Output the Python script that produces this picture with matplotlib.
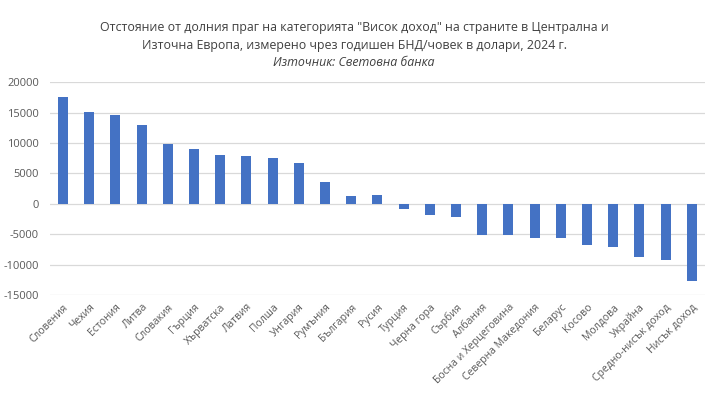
import matplotlib.pyplot as plt
import numpy as np
from matplotlib.transforms import ScaledTranslation

plt.rcParams['font.family'] = ['Open Sans', 'DejaVu Sans']

# Distance from the high-income threshold, GNI per capita, USD, 2024
countries = ['Словения', 'Чехия', 'Естония', 'Литва', 'Словакия', 'Гърция',
             'Хърватска', 'Латвия', 'Полша', 'Унгария', 'Румъния', 'България',
             'Русия', 'Турция', 'Черна гора', 'Сърбия', 'Албания',
             'Босна и Херцеговина', 'Северна Македония', 'Беларус', 'Косово',
             'Молдова', 'Украйна', 'Средно-нисък доход', 'Нисък доход']
gap = [17600, 15130, 14640, 12990, 9870, 9050,
       8060, 7900, 7570, 6740, 3620, 1320,
       1400, -780, -1880, -2200, -5200,
       -5200, -5540, -5700, -6700,
       -7050, -8670, -9290, -12750]
y_ticks = [-15000, -10000, -5000, 0, 5000, 10000, 15000, 20000]

fig = plt.figure(figsize=(7.08, 3.95), dpi=100)
ax = fig.add_axes([0.0706, 0.2532, 0.925, 0.5384])

x = np.arange(len(countries))
ax.bar(x, gap, width=0.38, color='#4472C4', zorder=3)

ax.set_xlim(-0.5, len(countries) - 0.5)
ax.set_ylim(-15000, 20000)
ax.set_yticks(y_ticks)
ax.set_yticklabels([str(v) for v in y_ticks], fontsize=8, color='#595959')
ax.set_xticks(x)
ax.set_xticklabels(countries, rotation=45, ha='right', rotation_mode='anchor',
                   fontsize=7.5, color='#595959')
# nudge the rotated labels a little to the left, as in the original
shift = ScaledTranslation(-4 / 72, 0, fig.dpi_scale_trans)
for lbl in ax.get_xticklabels():
    lbl.set_transform(lbl.get_transform() + shift)
ax.tick_params(length=0)
ax.tick_params(axis='y', pad=8)
ax.tick_params(axis='x', pad=5)
ax.grid(axis='y', color='#d9d9d9', linewidth=0.9, zorder=0)
for s in ax.spines.values():
    s.set_visible(False)

fig.text(0.5, 1 - 27.5 / 395,
         'Отстояние от долния праг на категорията "Висок доход" на страните в Централна и',
         ha='center', va='center', fontsize=8.9, color='#404040')
fig.text(0.5, 1 - 45 / 395,
         'Източна Европа, измерено чрез годишен БНД/човек в долари, 2024 г.',
         ha='center', va='center', fontsize=8.9, color='#404040')
fig.text(0.5, 1 - 62 / 395, 'Източник: Световна банка',
         ha='center', va='center', fontsize=8.9, color='#404040', style='italic')

fig.savefig('out.png', dpi=100)
